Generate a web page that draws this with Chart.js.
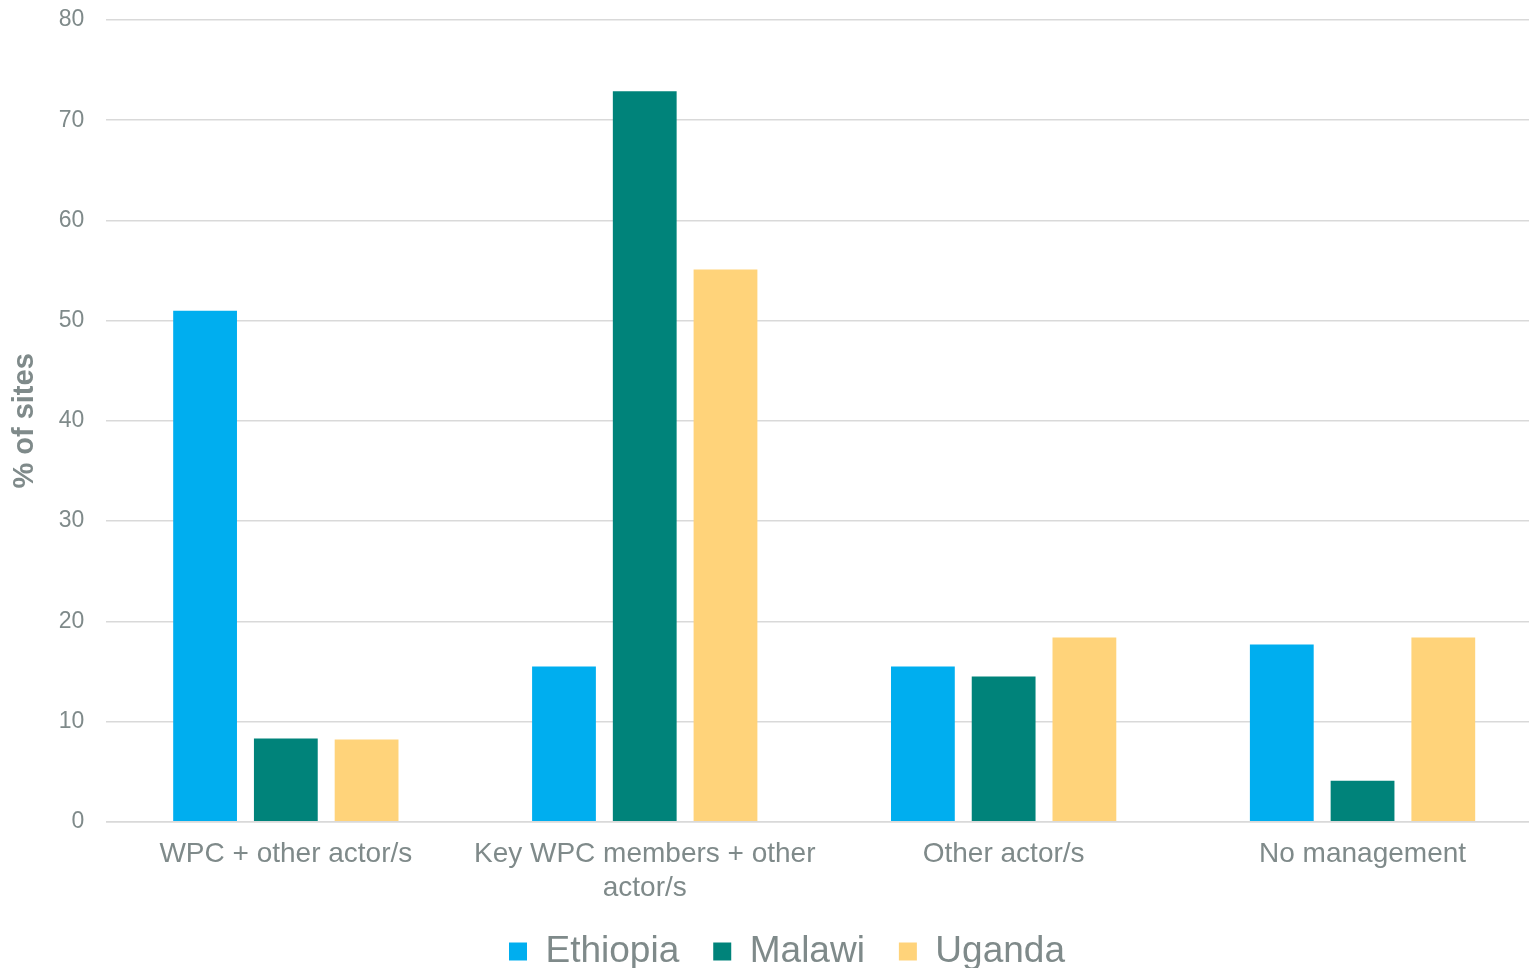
<!DOCTYPE html>
<html>
<head>
<meta charset="utf-8">
<script src="https://cdn.jsdelivr.net/npm/chart.js@4/dist/chart.umd.min.js"></script>
<style>
  html, body { margin: 0; padding: 0; background: #fff; overflow: hidden; }
  /* the plot runs a little past the right edge of the picture */
  #wrap { width: 1542px; height: 968px; position: relative; }
</style>
</head>
<body>
<div id="wrap"><canvas id="chart"></canvas></div>
<script>
// categories and series
const categories = [
    'WPC + other actor/s',
    ['Key WPC members + other', 'actor/s'],
    'Other actor/s',
    'No management'
];
const ethiopia = [51.0, 15.5, 15.5, 17.7];
const malawi = [8.3, 72.9, 14.5, 4.1];
const uganda = [8.2, 55.1, 18.4, 18.4];

const textGray = '#7f8a8a';
const gridGray = '#d9d9d9';

Chart.defaults.font.family = '"Liberation Sans", Arial, sans-serif';
Chart.defaults.color = textGray;

// legend padding is used both between items and above/below them;
// keep the wide horizontal gaps but trim the vertical space
const legendTrim = {
    id: 'legendTrim',
    beforeInit(chart) {
        const lg = chart.legend;
        const fit = lg.fit;
        lg.fit = function () {
            fit.call(this);
            this.height -= 32;
        };
    },
    afterLayout(chart) {
        chart.legend.top -= 14;
        chart.legend.bottom = chart.height;
        chart.legend.left += 24;
    }
};

const ctx = document.getElementById('chart').getContext('2d');
new Chart(ctx, {
    type: 'bar',
    data: {
        labels: categories,
        datasets: [
            { label: 'Ethiopia', data: ethiopia, backgroundColor: '#00aeef' },
            { label: 'Malawi', data: malawi, backgroundColor: '#00837a' },
            { label: 'Uganda', data: uganda, backgroundColor: '#ffd37a' }
        ]
    },
    options: {
        responsive: true,
        maintainAspectRatio: false,
        animation: false,
        layout: { padding: { top: 20, right: 0, bottom: 6, left: 8 } },
        datasets: {
            bar: { categoryPercentage: 0.675, barPercentage: 0.79 }
        },
        scales: {
            x: {
                grid: { display: false },
                border: { color: gridGray, width: 1.5 },
                ticks: { font: { size: 28 }, color: textGray, padding: 8, maxRotation: 0 }
            },
            y: {
                min: 0,
                max: 80,
                afterFit(scale) {
                    scale.paddingTop = 0;
                },
                ticks: { stepSize: 10, font: { size: 23 }, color: textGray, padding: 22 },
                grid: { color: gridGray, lineWidth: 1.5, drawTicks: false },
                border: { display: false },
                title: {
                    display: true,
                    text: '% of sites',
                    font: { size: 29, weight: 'bold' },
                    color: textGray,
                    padding: { top: 0, bottom: -6 }
                }
            }
        },
        plugins: {
            legend: {
                position: 'bottom',
                labels: {
                    boxWidth: 18,
                    boxHeight: 18,
                    font: { size: 37 },
                    color: textGray,
                    padding: 34
                }
            },
            tooltip: { enabled: false }
        }
    },
    plugins: [legendTrim]
});
</script>
</body>
</html>
